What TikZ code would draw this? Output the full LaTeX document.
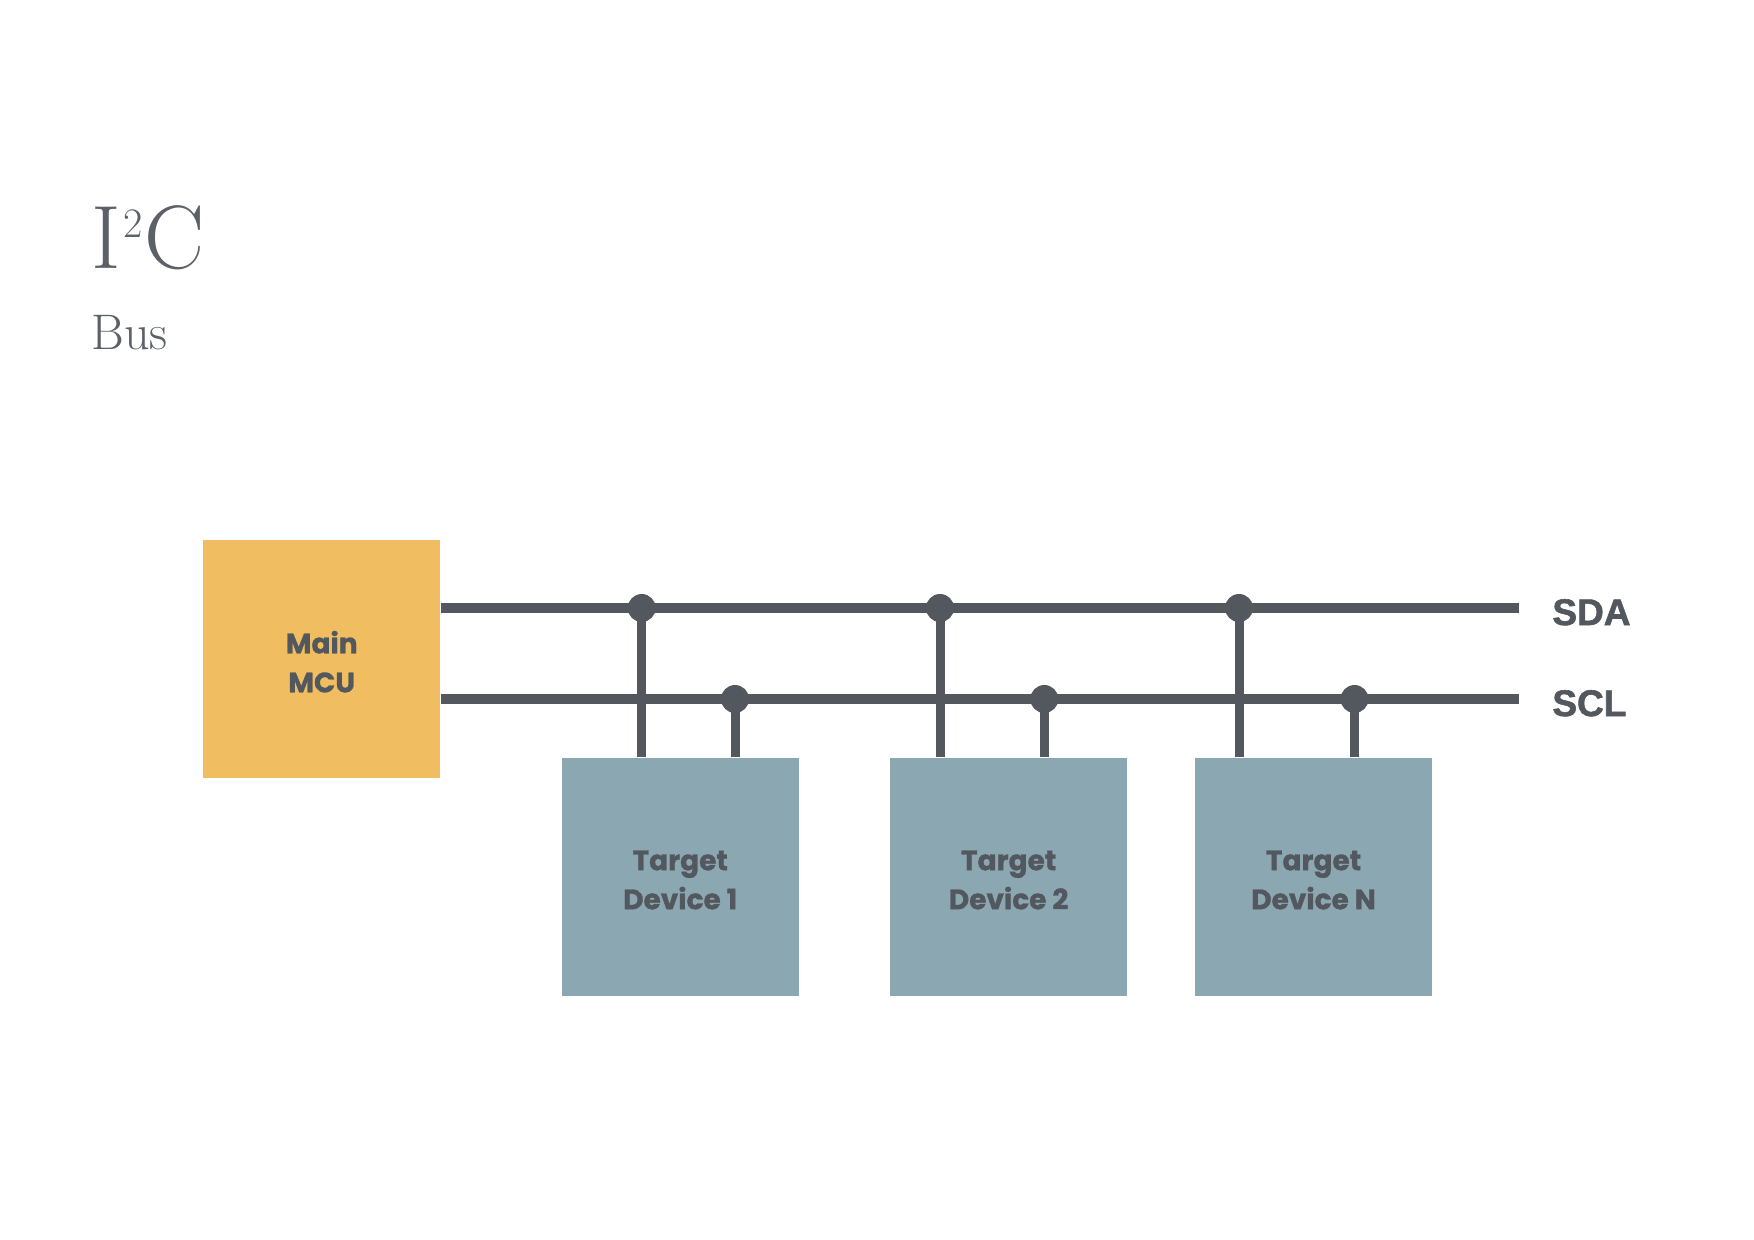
\documentclass[tikz,border=0pt]{standalone}
\usepackage{fontspec}
\newfontfamily\popfont{Poppins Bold}[FakeBold=1.0]
\newfontfamily\labfont{Liberation Sans Bold}[FakeBold=1.6]
\definecolor{mcuyellow}{HTML}{F0BE60}
\definecolor{tgtblue}{HTML}{8BA7B2}
\definecolor{wire}{HTML}{53575E}
\definecolor{titlegray}{HTML}{5C6168}
\tikzset{
  box/.style={rectangle, draw=none, inner sep=0pt, minimum width=118.5pt, minimum height=119pt},
  mcubox/.style={box, fill=mcuyellow},
  tgtbox/.style={box, fill=tgtblue},
  boxtext/.style={inner sep=0pt, align=center, text=wire, yshift=-1.6pt,
    font=\popfont\fontsize{14}{19.5}\selectfont},
  bus/.style={draw=wire, line width=4.65pt},
  drop/.style={draw=wire, line width=4.5pt},
  junction/.style={circle, fill=wire, inner sep=0pt, minimum size=14pt},
  buslabel/.style={anchor=base west, inner sep=0pt, text=wire, font=\labfont\fontsize{18.5}{20}\selectfont},
  titletext/.style={anchor=base west, inner sep=0pt, text=titlegray}
}
\begin{document}
\begin{tikzpicture}[x=0.5pt,y=-0.5pt]
\useasboundingbox (0,0) rectangle (1754,1240);

% title
\node[titletext, font=\fontsize{45}{45}\selectfont] (title) at (91,268.3)
  {I\kern1.5pt\raisebox{15.5pt}{\fontsize{21}{21}\selectfont 2}\kern0.5ptC};
\node[titletext, font=\fontsize{25}{25}\selectfont] (sub) at (91,350) {Bus};

% boxes
\node[mcubox] (mcu) at (321.7,658.5) {};
\node[tgtbox] (t1) at (680.2,876.8) {};
\node[tgtbox] (t2) at (1008.6,876.8) {};
\node[tgtbox] (t3) at (1313.5,876.8) {};
\node[boxtext] (mcutext) at (mcu.center) {Main\\MCU};
\node[boxtext] (t1text) at (t1.center) {Target\\Device 1};
\node[boxtext] (t2text) at (t2.center) {Target\\Device 2};
\node[boxtext] (t3text) at (t3.center) {Target\\Device N};

% bus ends
\coordinate (sdaend) at (1518.6,608);
\coordinate (sclend) at (1518.6,699);

% junctions
\coordinate (j1a) at (641.7,608);
\coordinate (j1c) at (735,699);
\coordinate (j2a) at (940,608);
\coordinate (j2c) at (1044.3,699);
\coordinate (j3a) at (1239,608);
\coordinate (j3c) at (1354.5,699);

% bus lines
\draw[bus] (mcu.east |- sdaend) -- (sdaend);
\draw[bus] (mcu.east |- sclend) -- (sclend);

% drops
\draw[drop] (j1a) -- (t1.north -| j1a);
\draw[drop] (j1c) -- (t1.north -| j1c);
\draw[drop] (j2a) -- (t2.north -| j2a);
\draw[drop] (j2c) -- (t2.north -| j2c);
\draw[drop] (j3a) -- (t3.north -| j3a);
\draw[drop] (j3c) -- (t3.north -| j3c);

% junction dots
\foreach \j in {j1a,j1c,j2a,j2c,j3a,j3c}
  \node[junction] at (\j) {};

% labels
\node[buslabel] (sda) at (1552,625) {SDA};
\node[buslabel] (scl) at (1552,716) {SCL};
\end{tikzpicture}
\end{document}
